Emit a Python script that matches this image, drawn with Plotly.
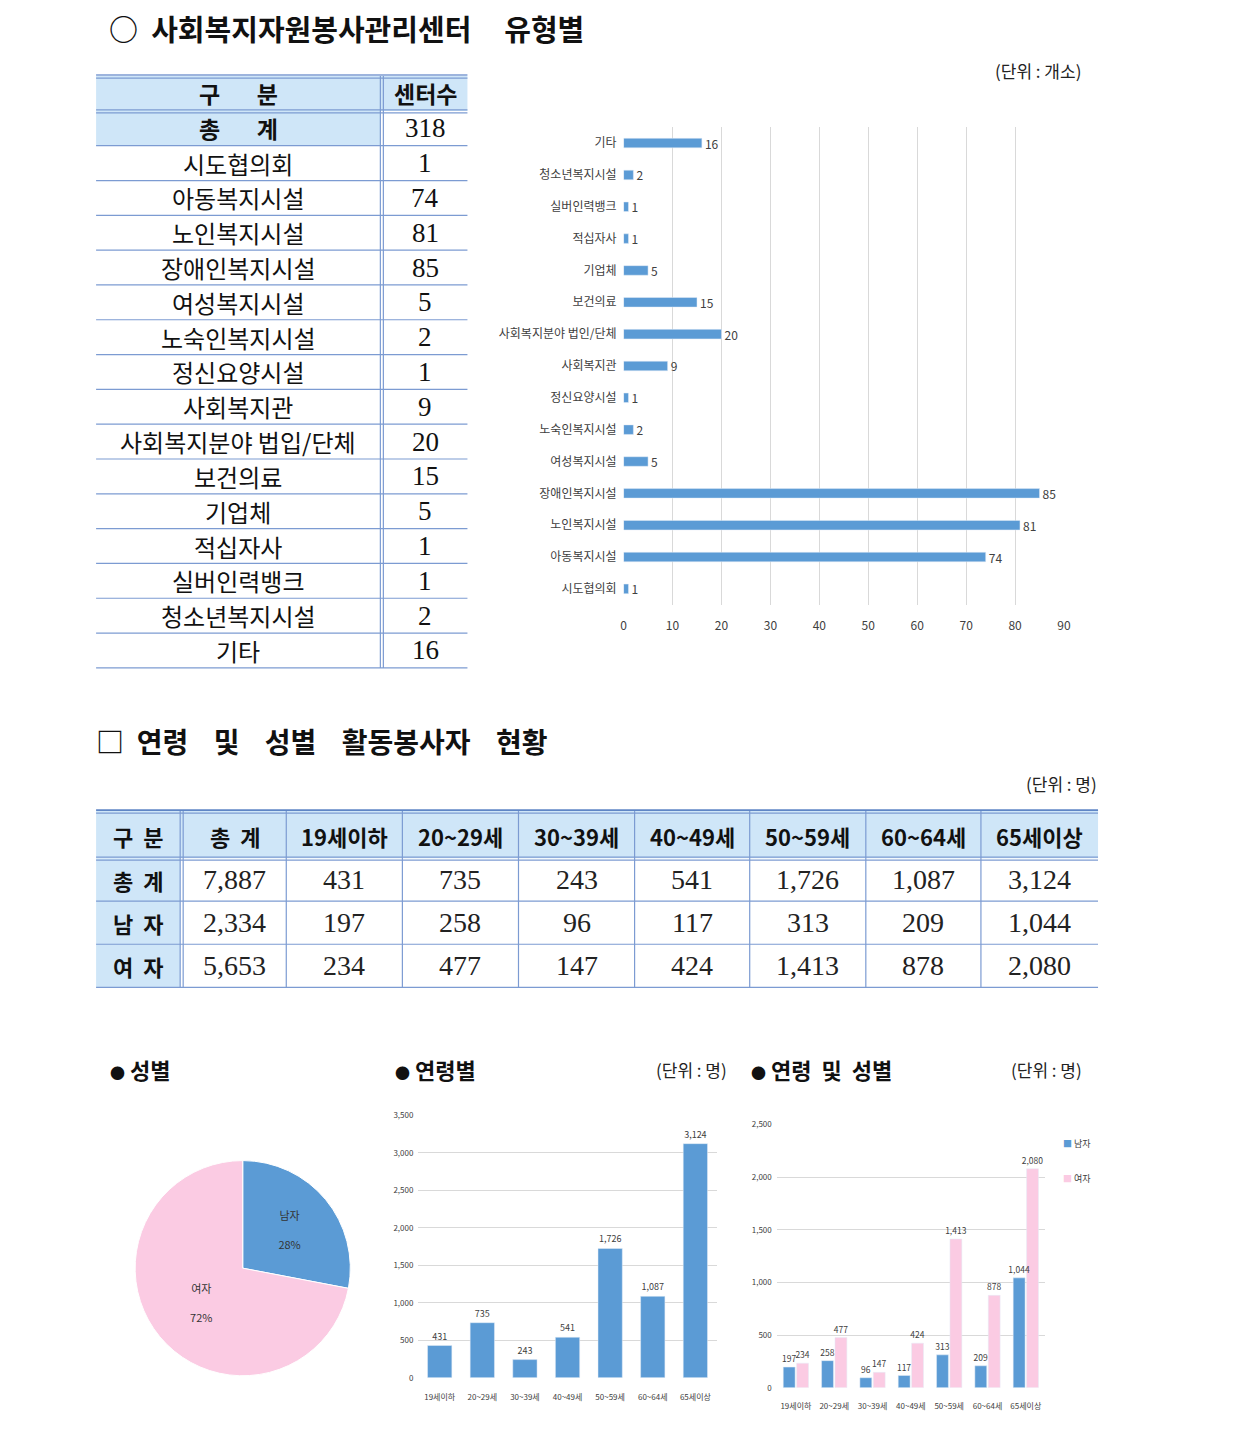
import plotly.graph_objects as go

W, H = 1241, 1431
# small calibration so that page pixels land where intended in the photographed page
SC, OX, OY = 0.991, 3.0, 6.0


def px(x):
    return ((x - OX) / SC) / W


def py(y):
    return 1 - ((y - OY) / SC) / H


# ---------------- data ----------------
center_types = ["시도협의회", "아동복지시설", "노인복지시설", "장애인복지시설", "여성복지시설",
                "노숙인복지시설", "정신요양시설", "사회복지관", "사회복지분야 법입/단체", "보건의료",
                "기업체", "적십자사", "실버인력뱅크", "청소년복지시설", "기타"]
chart_types = ["시도협의회", "아동복지시설", "노인복지시설", "장애인복지시설", "여성복지시설",
               "노숙인복지시설", "정신요양시설", "사회복지관", "사회복지분야 법인/단체", "보건의료",
               "기업체", "적십자사", "실버인력뱅크", "청소년복지시설", "기타"]
center_counts = [1, 74, 81, 85, 5, 2, 1, 9, 20, 15, 5, 1, 1, 2, 16]
center_total = 318

age_headers = ["19세이하", "20~29세", "30~39세", "40~49세", "50~59세", "60~64세", "65세이상"]
age_total = [431, 735, 243, 541, 1726, 1087, 3124]
age_male = [197, 258, 96, 117, 313, 209, 1044]
age_female = [234, 477, 147, 424, 1413, 878, 2080]
sum_total, sum_male, sum_female = 7887, 2334, 5653

gender_labels = ["남자", "여자"]
gender_pct = [28, 72]

# ---------------- style ----------------
BLUE = "#5b9bd5"
PINK = "#fbcbe3"
HDR = "#cfe6f8"
LINE = "#7c9bd2"
GRID = "#d9d9d9"
KR = "Noto Sans CJK KR"
SERIF = "Liberation Serif, Noto Sans CJK KR"
NB = "\u00a0"
LBL = "#404040"

fig = go.Figure()

# horizontal bar chart (centers by type)
fig.add_trace(go.Bar(
    x=center_counts, y=chart_types, orientation="h", marker_color=BLUE,
    width=0.3, text=[str(v) for v in center_counts], textposition="outside",
    constraintext="none",
    textfont=dict(size=12, color=LBL, family=KR), cliponaxis=False,
    xaxis="x", yaxis="y", showlegend=False, hoverinfo="skip"))

# age bar chart
fig.add_trace(go.Bar(
    x=age_headers, y=age_total, marker_color=BLUE, width=0.57,
    texttemplate="%{y:,}", textposition="outside", constraintext="none",
    textfont=dict(size=9, color=LBL, family=KR), cliponaxis=False,
    xaxis="x2", yaxis="y2", showlegend=False, hoverinfo="skip"))

# grouped bar chart (female drawn first so male labels stay on top)
BW = 0.31
fig.add_trace(go.Bar(
    x=age_headers, y=age_female, name="여자", marker_color=PINK,
    width=BW, offset=0.02,
    texttemplate="%{y:,}", textposition="outside", constraintext="none",
    textfont=dict(size=8.5, color=LBL, family=KR), cliponaxis=False,
    xaxis="x3", yaxis="y3", showlegend=False, hoverinfo="skip"))
fig.add_trace(go.Bar(
    x=age_headers, y=age_male, name="남자", marker_color=BLUE,
    width=BW, offset=-0.02 - BW,
    texttemplate="%{y:,}", textposition="outside", constraintext="none",
    textfont=dict(size=8.5, color=LBL, family=KR), cliponaxis=False,
    xaxis="x3", yaxis="y3", showlegend=False, hoverinfo="skip"))

# pie chart
fig.add_trace(go.Pie(
    labels=gender_labels, values=gender_pct, sort=False, direction="clockwise",
    rotation=0, marker=dict(colors=[BLUE, PINK], line=dict(color="white", width=1)),
    texttemplate="%{label}<br><br>%{percent:.0%}",
    textposition="inside", insidetextorientation="horizontal",
    textfont=dict(size=11, color="#333333", family=KR),
    domain=dict(x=[px(135), px(350)], y=[py(1378), py(1155)]),
    showlegend=False, hoverinfo="skip"))

shapes = []
ann = []


def hline(x0, x1, y, w=1.2, color=LINE):
    shapes.append(dict(type="line", xref="paper", yref="paper", x0=px(x0), x1=px(x1),
                       y0=py(y), y1=py(y), line=dict(color=color, width=w)))


def vline(x, y0, y1, w=1.2, color=LINE):
    shapes.append(dict(type="line", xref="paper", yref="paper", x0=px(x), x1=px(x),
                       y0=py(y0), y1=py(y1), line=dict(color=color, width=w)))


def rect(x0, y0, x1, y1, fill):
    shapes.append(dict(type="rect", xref="paper", yref="paper", x0=px(x0), x1=px(x1),
                       y0=py(y1), y1=py(y0), fillcolor=fill, line=dict(width=0), layer="below"))


def text(x, y, s, size, family=KR, anchor="center", color="#111111", vanchor="middle"):
    ann.append(dict(x=px(x), y=py(y), xref="paper", yref="paper", text=s, showarrow=False,
                    xanchor=anchor, yanchor=vanchor, font=dict(size=size, family=family, color=color)))


BUL = '<span style="font-size:15px">●</span>' + NB

# ---------------- titles ----------------
ann.append(dict(x=px(108), y=1.0, xref="paper", yref="paper", borderpad=0,
                text="<b>○" + NB * 2 + "사회복지자원봉사관리센터" + NB * 5 + "유형별</b>",
                showarrow=False, xanchor="left", yanchor="top",
                font=dict(size=29, family=KR, color="#111111")))
text(1082, 70, "(단위" + NB + ":" + NB + "개소)", 17, anchor="right", color="#222")
text(94, 740, "<b>□" + NB * 2 + "연령" + NB * 4 + "및" + NB * 4 + "성별" + NB * 4 + "활동봉사자" + NB * 4 + "현황</b>",
     28, anchor="left")
text(1098, 782, "(단위" + NB + ":" + NB + "명)", 17, anchor="right", color="#222")
text(108, 1068, "<b>" + BUL + "성별</b>", 22, anchor="left")
text(393, 1068, "<b>" + BUL + "연령별</b>", 22, anchor="left")
text(728, 1068, "(단위" + NB + ":" + NB + "명)", 17, anchor="right", color="#222")
text(748, 1068, "<b>" + BUL + "연령" + NB * 2 + "및" + NB * 2 + "성별</b>", 22, anchor="left")
text(1083, 1068, "(단위" + NB + ":" + NB + "명)", 17, anchor="right", color="#222")

# legend of grouped chart (as text)
text(1060, 1142, '<span style="color:%s">■</span>%s남자' % (BLUE, NB), 9, anchor="left", color=LBL)
text(1060, 1177, '<span style="color:%s">■</span>%s여자' % (PINK, NB), 9, anchor="left", color=LBL)

# ---------------- table 1 ----------------
t1_x0, t1_xd, t1_x1 = 96, 380, 467
t1_top = 76
nrows1 = len(center_types) + 2
rh1 = (667 - t1_top) / nrows1
rect(t1_x0, t1_top, t1_x1, t1_top + rh1, HDR)
rect(t1_x0, t1_top + rh1, t1_xd, t1_top + 2 * rh1, HDR)
hline(t1_x0, t1_x1, t1_top - 1, 1.5)
hline(t1_x0, t1_x1, t1_top + 2, 1.2)
hline(t1_x0, t1_x1, t1_top + rh1 - 1, 1.2)
hline(t1_x0, t1_x1, t1_top + rh1 + 2, 1.2)
for i in range(2, nrows1 + 1):
    hline(t1_x0, t1_x1, t1_top + i * rh1, 1.2)
vline(t1_xd, t1_top, 667, 1.2)
vline(t1_xd + 3, t1_top, 667, 1.2)
cl = (t1_x0 + t1_xd) / 2
cr = (t1_xd + 3 + t1_x1) / 2
text(cl, t1_top + rh1 / 2, "<b>구" + NB * 7 + "분</b>", 23)
text(cr, t1_top + rh1 / 2, "<b>센터수</b>", 23)
text(cl, t1_top + 1.5 * rh1, "<b>총" + NB * 7 + "계</b>", 23)
text(cr, t1_top + 1.5 * rh1, str(center_total), 27, family=SERIF)
for i, (name, cnt) in enumerate(zip(center_types, center_counts)):
    yc = t1_top + (i + 2.5) * rh1
    text(cl, yc, name, 24)
    text(cr, yc, str(cnt), 27, family=SERIF)

# ---------------- table 2 ----------------
cols = [96, 180, 286, 402, 518, 634, 749, 865, 980, 1097]
rows = [810, 857, 900, 943, 986]
rect(cols[0], rows[0], cols[-1], rows[1], HDR)
rect(cols[0], rows[1], cols[1], rows[-1], HDR)
hline(cols[0], cols[-1], rows[0] - 1, 1.8, "#5f86c6")
hline(cols[0], cols[-1], rows[0] + 2, 1.2)
hline(cols[0], cols[-1], rows[1] - 1, 1.2)
hline(cols[0], cols[-1], rows[1] + 2, 1.2)
for r in rows[2:]:
    hline(cols[0], cols[-1], r, 1.2)
vline(cols[1], rows[0], rows[-1], 1.2)
vline(cols[1] + 3, rows[0], rows[-1], 1.2)
for c in cols[2:-1]:
    vline(c, rows[0], rows[-1], 1.2)

headers2 = ["구" + NB * 2 + "분", "총" + NB * 2 + "계"] + age_headers
row_labels = ["총" + NB * 2 + "계", "남" + NB * 2 + "자", "여" + NB * 2 + "자"]
row_values = [[sum_total] + age_total, [sum_male] + age_male, [sum_female] + age_female]
for j, h in enumerate(headers2):
    xc = (cols[j] + cols[j + 1]) / 2 + (1.5 if j == 1 else 0)
    text(xc, (rows[0] + rows[1]) / 2 + 1, "<b>" + h + "</b>", 22)
for i, (lab, vals) in enumerate(zip(row_labels, row_values)):
    yc = (rows[i + 1] + rows[i + 2]) / 2
    text((cols[0] + cols[1]) / 2, yc, "<b>" + lab + "</b>", 22)
    for j, v in enumerate(vals):
        xc = (cols[j + 1] + cols[j + 2]) / 2 + (1.5 if j == 0 else 0)
        text(xc, yc, f"{v:,}", 28, family=SERIF, color="#222")

axis_font = dict(size=12, color=LBL, family=KR)
small_font = dict(size=8, color=LBL, family=KR)

fig.update_layout(
    width=W, height=H, margin=dict(l=0, r=0, t=0, b=0),
    paper_bgcolor="white", plot_bgcolor="white",
    barmode="group",
    shapes=shapes, annotations=ann, showlegend=False,
    font=dict(family=KR),
    xaxis=dict(domain=[px(623), px(1063)], range=[0, 90], dtick=10, anchor="y",
               showgrid=True, gridcolor=GRID, zeroline=False, showline=False,
               tickfont=axis_font, ticklabelstandoff=12, fixedrange=True),
    yaxis=dict(domain=[py(604), py(127)], anchor="x", type="category",
               categoryorder="array", categoryarray=chart_types,
               showgrid=False, zeroline=False, showline=False,
               tickfont=axis_font, ticklabelstandoff=6, fixedrange=True),
    xaxis2=dict(domain=[px(418), px(716)], anchor="y2", showgrid=False, showline=False,
                zeroline=False, tickfont=small_font, ticklabelstandoff=13),
    yaxis2=dict(domain=[py(1376), py(1114)], anchor="x2", range=[0, 3500], dtick=500,
                tickformat=",", showgrid=True, gridcolor=GRID, zeroline=False,
                tickfont=small_font, ticklabelstandoff=4),
    xaxis3=dict(domain=[px(776), px(1044)], anchor="y3", showgrid=False, showline=False,
                zeroline=False, tickfont=small_font, ticklabelstandoff=12),
    yaxis3=dict(domain=[py(1386), py(1123)], anchor="x3", range=[0, 2500], dtick=500,
                tickformat=",", showgrid=True, gridcolor=GRID, zeroline=False,
                tickfont=small_font, ticklabelstandoff=4),
)

fig.write_html(
    "out.html",
    config={"displayModeBar": False},
    post_script=("document.body.style.margin='0';"
                 "document.body.style.overflow='hidden';"
                 "document.documentElement.style.overflow='hidden';"),
)
